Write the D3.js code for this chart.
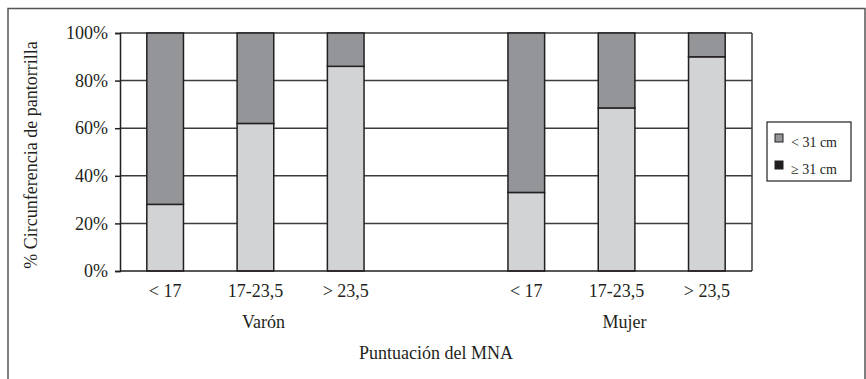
<!DOCTYPE html>
<html>
<head>
<meta charset="utf-8">
<script src="https://cdn.jsdelivr.net/npm/d3@7"></script>
<style>
    body { margin: 0; background: #fff; }
</style>
</head>
<body>
<div id="chart_container"></div>
<script>
// categories: group / MNA score band, "" marks the empty slot between groups
const slots = ["V<17", "V17-23,5", "V>23,5", "", "M<17", "M17-23,5", "M>23,5"];
const slot_labels = ["< 17", "17-23,5", "> 23,5", "", "< 17", "17-23,5", "> 23,5"];
const groups = ["Varón", "Mujer"];
const group_slots = [["V<17", "V17-23,5", "V>23,5"], ["M<17", "M17-23,5", "M>23,5"]];

// % of each bar (bottom light segment, top dark segment)
const ge31_values = [28, 62, 86, 33, 68.5, 90];
const lt31_values = [72, 38, 14, 67, 31.5, 10];
const bar_slots = ["V<17", "V17-23,5", "V>23,5", "M<17", "M17-23,5", "M>23,5"];

const y_ticks = [0, 20, 40, 60, 80, 100];
const legend_labels = ["< 31 cm", "\u2265 31 cm"];

const width = 866, height = 379;
const plot = { left: 120, right: 752, top: 33, bottom: 271 };
const serif = '"Liberation Serif", "Noto Serif", "Nimbus Roman", "FreeSerif", "Tinos", "DejaVu Serif", serif';
const text_color = "#231f20";

const svg = d3.select("#chart_container")
    .append("svg")
    .attr("width", width)
    .attr("height", height)
    .attr("font-family", serif);

// outer frame (cut by the picture edge on the right and bottom)
svg.append("rect")
    .attr("x", 8).attr("y", 8.5)
    .attr("width", 857).attr("height", 400)
    .attr("fill", "none")
    .attr("stroke", "#555")
    .attr("stroke-width", 1.5);

const x = d3.scaleBand()
    .domain(slots)
    .range([plot.left, plot.right])
    .paddingInner(0.594)
    .paddingOuter(0.297);

const y = d3.scaleLinear()
    .domain([0, 100])
    .range([plot.bottom, plot.top]);

// gridlines
svg.append("g")
    .selectAll("line")
    .data(y_ticks.filter(d => d > 0))
    .enter()
    .append("line")
    .attr("x1", plot.left).attr("x2", plot.right)
    .attr("y1", d => y(d)).attr("y2", d => y(d))
    .attr("stroke", "#3c3c3c")
    .attr("stroke-width", 1.5);

// right border of plot area
svg.append("line")
    .attr("x1", plot.right).attr("x2", plot.right)
    .attr("y1", y(100)).attr("y2", y(0))
    .attr("stroke", "#3c3c3c")
    .attr("stroke-width", 1.5);

// Y axis
const y_axis = svg.append("g")
    .attr("transform", `translate(${plot.left}, 0)`)
    .call(d3.axisLeft(y).tickValues(y_ticks).tickSize(5).tickPadding(7).tickFormat(d => d + "%"));
y_axis.attr("font-family", serif).attr("font-size", 18);
y_axis.select(".domain").attr("stroke", text_color).attr("stroke-width", 1.5);
y_axis.selectAll(".tick line").attr("stroke", text_color).attr("stroke-width", 1.5);
y_axis.selectAll(".tick text").attr("fill", text_color);

// stacked bars
const rows = bar_slots.map((s, i) => ({ slot: s, ge31: ge31_values[i], lt31: lt31_values[i] }));
const stacked = d3.stack().keys(["ge31", "lt31"])(rows);
const fills = { ge31: "#d1d3d4", lt31: "#939598" };

svg.append("g")
    .selectAll("g")
    .data(stacked)
    .enter()
    .append("g")
    .attr("fill", d => fills[d.key])
    .selectAll("rect")
    .data(d => d)
    .enter()
    .append("rect")
    .attr("x", d => x(d.data.slot))
    .attr("y", d => y(d[1]))
    .attr("width", x.bandwidth())
    .attr("height", d => y(d[0]) - y(d[1]))
    .attr("stroke", text_color)
    .attr("stroke-width", 1.5);

// X axis line
svg.append("line")
    .attr("x1", plot.left).attr("x2", plot.right)
    .attr("y1", y(0)).attr("y2", y(0))
    .attr("stroke", text_color)
    .attr("stroke-width", 1.5);

// category labels
svg.append("g")
    .selectAll("text")
    .data(slots.map((s, i) => ({ slot: s, label: slot_labels[i] })).filter(d => d.label))
    .enter()
    .append("text")
    .attr("x", d => x(d.slot) + x.bandwidth() / 2)
    .attr("y", 297)
    .attr("text-anchor", "middle")
    .attr("font-size", 18)
    .attr("fill", text_color)
    .text(d => d.label);

// group labels
svg.append("g")
    .selectAll("text")
    .data(groups)
    .enter()
    .append("text")
    .attr("x", (d, i) => d3.mean(group_slots[i], s => x(s) + x.bandwidth() / 2) + 8)
    .attr("y", 328)
    .attr("text-anchor", "middle")
    .attr("font-size", 18)
    .attr("fill", text_color)
    .text(d => d);

// axis titles
svg.append("text")
    .attr("x", (plot.left + plot.right) / 2)
    .attr("y", 359)
    .attr("text-anchor", "middle")
    .attr("font-size", 18)
    .attr("fill", text_color)
    .text("Puntuación del MNA");

svg.append("text")
    .attr("transform", `translate(37, ${(plot.top + plot.bottom) / 2 + 3}) rotate(-90)`)
    .attr("text-anchor", "middle")
    .attr("font-size", 18)
    .attr("fill", text_color)
    .text("% Circunferencia de pantorrilla");

// legend
const legend = svg.append("g").attr("transform", "translate(767, 122)");
legend.append("rect")
    .attr("width", 84).attr("height", 59)
    .attr("fill", "#fff")
    .attr("stroke", text_color)
    .attr("stroke-width", 1.2);

const legend_colors = ["#939598", text_color];
legend_labels.forEach((label, i) => {
    legend.append("rect")
        .attr("x", 8).attr("y", 12 + i * 27)
        .attr("width", 8).attr("height", 8)
        .attr("fill", legend_colors[i])
        .attr("stroke", text_color)
        .attr("stroke-width", 1);
    legend.append("text")
        .attr("x", 24).attr("y", 25 + i * 27)
        .attr("font-size", 14)
        .attr("fill", text_color)
        .text(label);
});
</script>
</body>
</html>
